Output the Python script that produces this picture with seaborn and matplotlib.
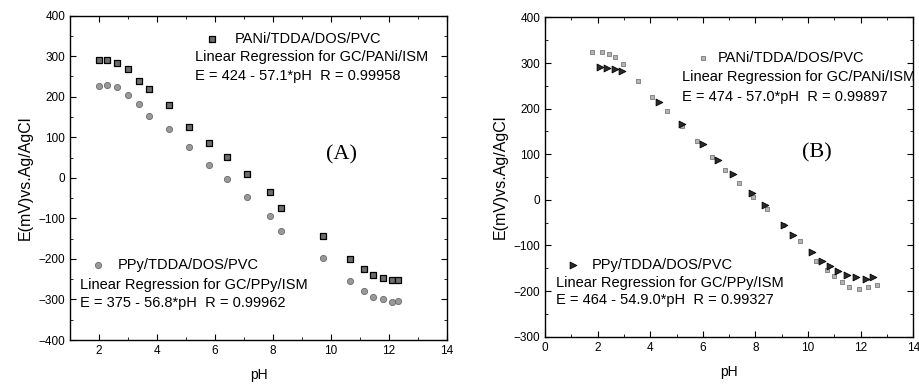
import numpy as np
import pandas as pd
import matplotlib
matplotlib.use("Agg")
import matplotlib.pyplot as plt
from matplotlib.ticker import MultipleLocator
import seaborn as sns

sns.set_style("ticks", {"axes.edgecolor": "black", "text.color": "black",
                        "xtick.color": "black", "ytick.color": "black",
                        "axes.labelcolor": "black"})
plt.rcParams['font.family'] = ['Liberation Sans', 'DejaVu Sans']

# panel A: GC/PANi and GC/PPy electrodes
ph_a = [2.0, 2.27, 2.62, 2.99, 3.39, 3.73, 4.42, 5.11, 5.79, 6.40, 7.11, 7.89,
        8.29, 9.72, 10.66, 11.12, 11.46, 11.78, 12.09, 12.32]
pani_a = [290, 290, 282, 268, 239, 219, 179, 126, 86, 52, 10, -36,
          -75, -143, -199, -225, -240, -247, -253, -253]
ppy_a = [226, 228, 223, 205, 181, 152, 120, 75, 32, -4, -47, -94,
         -131, -197, -254, -279, -294, -300, -307, -305]

# panel B
ph_b_pani = [1.80, 2.15, 2.43, 2.67, 2.98, 3.52, 4.07, 4.63, 5.20, 5.77, 6.34, 6.84,
             7.39, 7.92, 8.45, 9.06, 9.70, 10.30, 10.71, 11.00, 11.28, 11.57,
             11.94, 12.26, 12.61]
pani_b = [324, 324, 319, 314, 298, 261, 226, 194, 161, 128, 95, 66,
          38, 7, -20, -55, -91, -133, -153, -168, -179, -190,
          -195, -190, -186]
ph_b_ppy = [2.09, 2.35, 2.66, 2.94, 4.35, 5.20, 6.00, 6.59, 7.16, 7.86, 8.37,
            9.10, 9.44, 10.14, 10.52, 10.84, 11.15, 11.47, 11.81, 12.19, 12.48]
ppy_b = [291, 290, 287, 283, 215, 166, 123, 88, 57, 15, -12,
         -55, -77, -115, -135, -146, -157, -164, -169, -174, -169]

df_a = pd.DataFrame({"pH": ph_a, "PANi": pani_a, "PPy": ppy_a})
df_b1 = pd.DataFrame({"pH": ph_b_pani, "E": pani_b})
df_b2 = pd.DataFrame({"pH": ph_b_ppy, "E": ppy_b})

fig = plt.figure(figsize=(9.2, 3.88), dpi=100)
ax1 = fig.add_axes([0.0761, 0.1237, 0.4098, 0.836])
ax2 = fig.add_axes([0.5924, 0.1322, 0.4003, 0.823])

sq_a = dict(marker="s", s=17, color="#6e6e6e", edgecolor="black", linewidth=0.9)
ci_a = dict(marker="o", s=20, color="#999999", edgecolor="#6a6a6a", linewidth=0.6)
sq_b = dict(marker="s", s=12, color="#b4b4b4", edgecolor="#7a7a7a", linewidth=0.6)
tr_b = dict(marker=">", s=24, color="#2a2a2a", edgecolor="black", linewidth=0.6)

sns.scatterplot(data=df_a, x="pH", y="PANi", ax=ax1, **sq_a)
sns.scatterplot(data=df_a, x="pH", y="PPy", ax=ax1, **ci_a)
sns.scatterplot(data=df_b1, x="pH", y="E", ax=ax2, **sq_b)
sns.scatterplot(data=df_b2, x="pH", y="E", ax=ax2, zorder=3, **tr_b)

for ax in (ax1, ax2):
    ax.set_xlabel("pH", fontsize=10, labelpad=8)
    ax.set_ylabel("E(mV)vs.Ag/AgCl", fontsize=11.5)
    ax.xaxis.set_major_locator(MultipleLocator(2))
    ax.xaxis.set_minor_locator(MultipleLocator(1))
    ax.yaxis.set_major_locator(MultipleLocator(100))
    ax.yaxis.set_minor_locator(MultipleLocator(50))
    ax.tick_params(which="both", direction="in", top=True, right=True, labelsize=8.5)
    ax.tick_params(which="major", length=4)
    ax.tick_params(which="minor", length=2)
    for sp in ax.spines.values():
        sp.set_linewidth(1.0)
        sp.set_color("black")

ax1.set_xlim(1, 14)
ax1.set_ylim(-400, 400)
ax2.set_xlim(0, 14)
ax2.set_ylim(-300, 400)

fs = 10.5
# panel A annotations
ax1.scatter([0.377], [0.928], transform=ax1.transAxes, **sq_a)
ax1.text(0.438, 0.928, "PANi/TDDA/DOS/PVC", transform=ax1.transAxes, fontsize=fs, va="center")
ax1.text(0.332, 0.873, "Linear Regression for GC/PANi/ISM", transform=ax1.transAxes, fontsize=fs, va="center")
ax1.text(0.332, 0.814, "E = 424 - 57.1*pH  R = 0.99958", transform=ax1.transAxes, fontsize=fs, va="center")
ax1.scatter([0.074], [0.231], transform=ax1.transAxes, **ci_a)
ax1.text(0.127, 0.231, "PPy/TDDA/DOS/PVC", transform=ax1.transAxes, fontsize=fs, va="center")
ax1.text(0.027, 0.170, "Linear Regression for GC/PPy/ISM", transform=ax1.transAxes, fontsize=fs, va="center")
ax1.text(0.027, 0.114, "E = 375 - 56.8*pH  R = 0.99962", transform=ax1.transAxes, fontsize=fs, va="center")
ax1.text(0.72, 0.57, "(A)", transform=ax1.transAxes, fontsize=16, family="Liberation Serif",
         ha="center", va="center")

# panel B annotations
ax2.scatter([0.429], [0.873], transform=ax2.transAxes, **sq_b)
ax2.text(0.470, 0.873, "PANi/TDDA/DOS/PVC", transform=ax2.transAxes, fontsize=fs, va="center")
ax2.text(0.372, 0.813, "Linear Regression for GC/PANi/ISM", transform=ax2.transAxes, fontsize=fs, va="center")
ax2.text(0.372, 0.750, "E = 474 - 57.0*pH  R = 0.99897", transform=ax2.transAxes, fontsize=fs, va="center")
ax2.scatter([0.076], [0.224], transform=ax2.transAxes, **tr_b)
ax2.text(0.128, 0.224, "PPy/TDDA/DOS/PVC", transform=ax2.transAxes, fontsize=fs, va="center")
ax2.text(0.030, 0.168, "Linear Regression for GC/PPy/ISM", transform=ax2.transAxes, fontsize=fs, va="center")
ax2.text(0.030, 0.115, "E = 464 - 54.9.0*pH  R = 0.99327", transform=ax2.transAxes, fontsize=fs, va="center")
ax2.text(0.738, 0.575, "(B)", transform=ax2.transAxes, fontsize=16, family="Liberation Serif",
         ha="center", va="center")

fig.savefig("out.png", dpi=100)
